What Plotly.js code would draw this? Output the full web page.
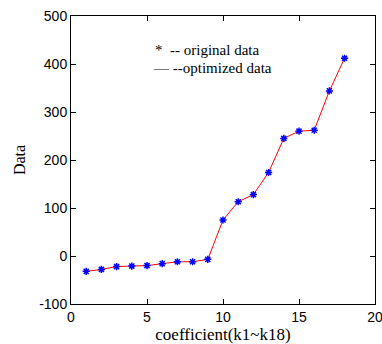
<!DOCTYPE html>
<html><head><meta charset="utf-8">
<script src="https://cdn.plot.ly/plotly-3.0.1.min.js"></script>
<style>html,body{margin:0;padding:0;background:#fff}</style>
</head><body><div id="chart" style="width:382px;height:344px"></div>
<script>
var coeffIndex = [1,2,3,4,5,6,7,8,9,10,11,12,13,14,15,16,17,18];
var originalData = [-32,-28,-22,-21,-20,-16,-12,-12,-7,75,113,128,174,245,260,262,344,412];
var optimizedData = [-32,-28,-22,-21,-20,-16,-12,-12,-7,75,113,128,174,245,260,262,344,412];
var xTicks = [0,5,10,15,20];
var yTicks = [-100,0,100,200,300,400,500];
var legendLines = ['*\u00a0\u00a0-- original data', '\u2014 --optimized data'];

var serif = 'Liberation Serif, Times New Roman, serif';
var traces = [
  {x: coeffIndex, y: optimizedData, mode: 'lines', line: {color: '#ff0000', width: 1}, showlegend: false, hoverinfo: 'skip'},
  {x: coeffIndex, y: originalData, mode: 'markers', marker: {symbol: 'asterisk-open', size: 6, color: '#0000ff', line: {color: '#0000ff', width: 1.5}}, showlegend: false}
];
var axisCommon = {showline: true, linecolor: '#000', linewidth: 1, mirror: 'allticks', ticks: 'inside', ticklen: 5, tickcolor: '#000', showgrid: false, zeroline: false,
  ticklabeloverflow: 'allow',
  tickfont: {family: 'Liberation Sans, Arial, sans-serif', size: 14, color: '#000'}};
var W = 382, H = 344, L = 71, R = 7, T = 16, B = 40;
function px(xp){ return (xp - L) / (W - L - R); }
function py(yp){ return (H - B - yp) / (H - T - B); }
var layout = {
  width: W, height: H,
  margin: {l: L, r: R, t: T, b: B},
  paper_bgcolor: '#fff', plot_bgcolor: '#fff',
  xaxis: Object.assign({}, axisCommon, {range: [0, 20], tickvals: xTicks, ticktext: xTicks.map(String),
    title: {text: 'coefficient(k1~k18)', standoff: 0, font: {family: serif, size: 17, color: '#000'}}}),
  yaxis: Object.assign({}, axisCommon, {range: [-100, 500], tickvals: yTicks, ticktext: yTicks.map(String),
    title: {text: 'Data', standoff: 9, font: {family: serif, size: 16, color: '#000'}}}),
  annotations: [
    {xref: 'paper', yref: 'paper', x: px(153), y: py(50), xanchor: 'left', yanchor: 'middle', text: legendLines[0], showarrow: false,
     font: {family: serif, size: 15, color: '#000'}},
    {xref: 'paper', yref: 'paper', x: px(151), y: py(68), xanchor: 'left', yanchor: 'middle', text: legendLines[1], showarrow: false,
     font: {family: serif, size: 15, color: '#000'}}
  ]
};
Plotly.newPlot('chart', traces, layout, {displayModeBar: false, staticPlot: true});
</script></body></html>
